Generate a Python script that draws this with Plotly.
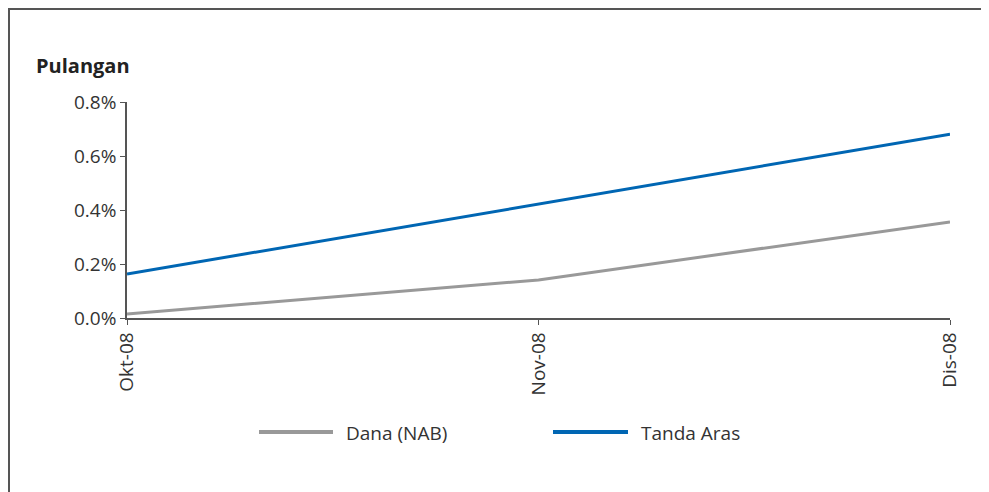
import plotly.graph_objects as go

# data
months = ["Okt-08", "Nov-08", "Dis-08"]
dana_nab = [0.00015, 0.00141, 0.00356]
tanda_aras = [0.00163, 0.00421, 0.00681]

GREY = "#999999"
BLUE = "#0066B3"
FONT = "Open Sans"

# page has an 8px body margin, so the figure is drawn 8px in from the window edge
OFF = 8
W, H = 989 - OFF, 492 - OFF
# plot area in window pixels
L, R, T, B = 127 - OFF, 950 - OFF, 102 - OFF, 318 - OFF


def px(x):
    return (x - OFF - L) / (R - L)


def py(y):
    return (B - (y - OFF)) / (B - T)


fig = go.Figure()
fig.add_trace(go.Scatter(x=months, y=dana_nab, mode="lines", name="Dana (NAB)",
                         line=dict(color=GREY, width=3), showlegend=False))
fig.add_trace(go.Scatter(x=months, y=tanda_aras, mode="lines", name="Tanda Aras",
                         line=dict(color=BLUE, width=3), showlegend=False))

# outer frame
fig.add_shape(type="rect", xref="paper", yref="paper",
              x0=px(OFF + 1), x1=px(985), y0=py(530), y1=py(OFF + 1),
              line=dict(color="#555555", width=2))

# legend drawn by hand (long line samples)
legend = [("Dana (NAB)", GREY, 259, 333, 344), ("Tanda Aras", BLUE, 553, 628, 639)]
for name, col, x0, x1, xt in legend:
    fig.add_shape(type="line", xref="paper", yref="paper",
                  x0=px(x0), x1=px(x1), y0=py(432), y1=py(432),
                  line=dict(color=col, width=4))
    fig.add_annotation(text=name, xref="paper", yref="paper", x=px(xt), y=py(433),
                       xanchor="left", yanchor="middle", showarrow=False,
                       font=dict(family=FONT, size=19, color="#333333"))

fig.add_annotation(text="<b>Pulangan</b>", xref="paper", yref="paper",
                   x=px(34), y=py(66), xanchor="left", yanchor="middle",
                   showarrow=False, font=dict(family=FONT, size=20, color="#222222"))

fig.update_xaxes(type="category", range=[0, 2], showline=True, linecolor="#555555",
                 linewidth=1.5, ticks="outside", ticklen=5, tickcolor="#555555",
                 tickangle=-90, showgrid=False, zeroline=False,
                 tickfont=dict(family=FONT, size=19, color="#333333"))
fig.update_yaxes(range=[0, 0.008], dtick=0.002, tickformat=".1%", showline=True,
                 linecolor="#555555", linewidth=1.5, ticks="outside", ticklen=5,
                 tickcolor="#555555", showgrid=False, zeroline=False,
                 tickfont=dict(family=FONT, size=19, color="#333333"))

fig.update_layout(width=W, height=H, margin=dict(l=L, r=W - R, t=T, b=H - B),
                  plot_bgcolor="white", paper_bgcolor="white")

fig.write_html("out.html")
